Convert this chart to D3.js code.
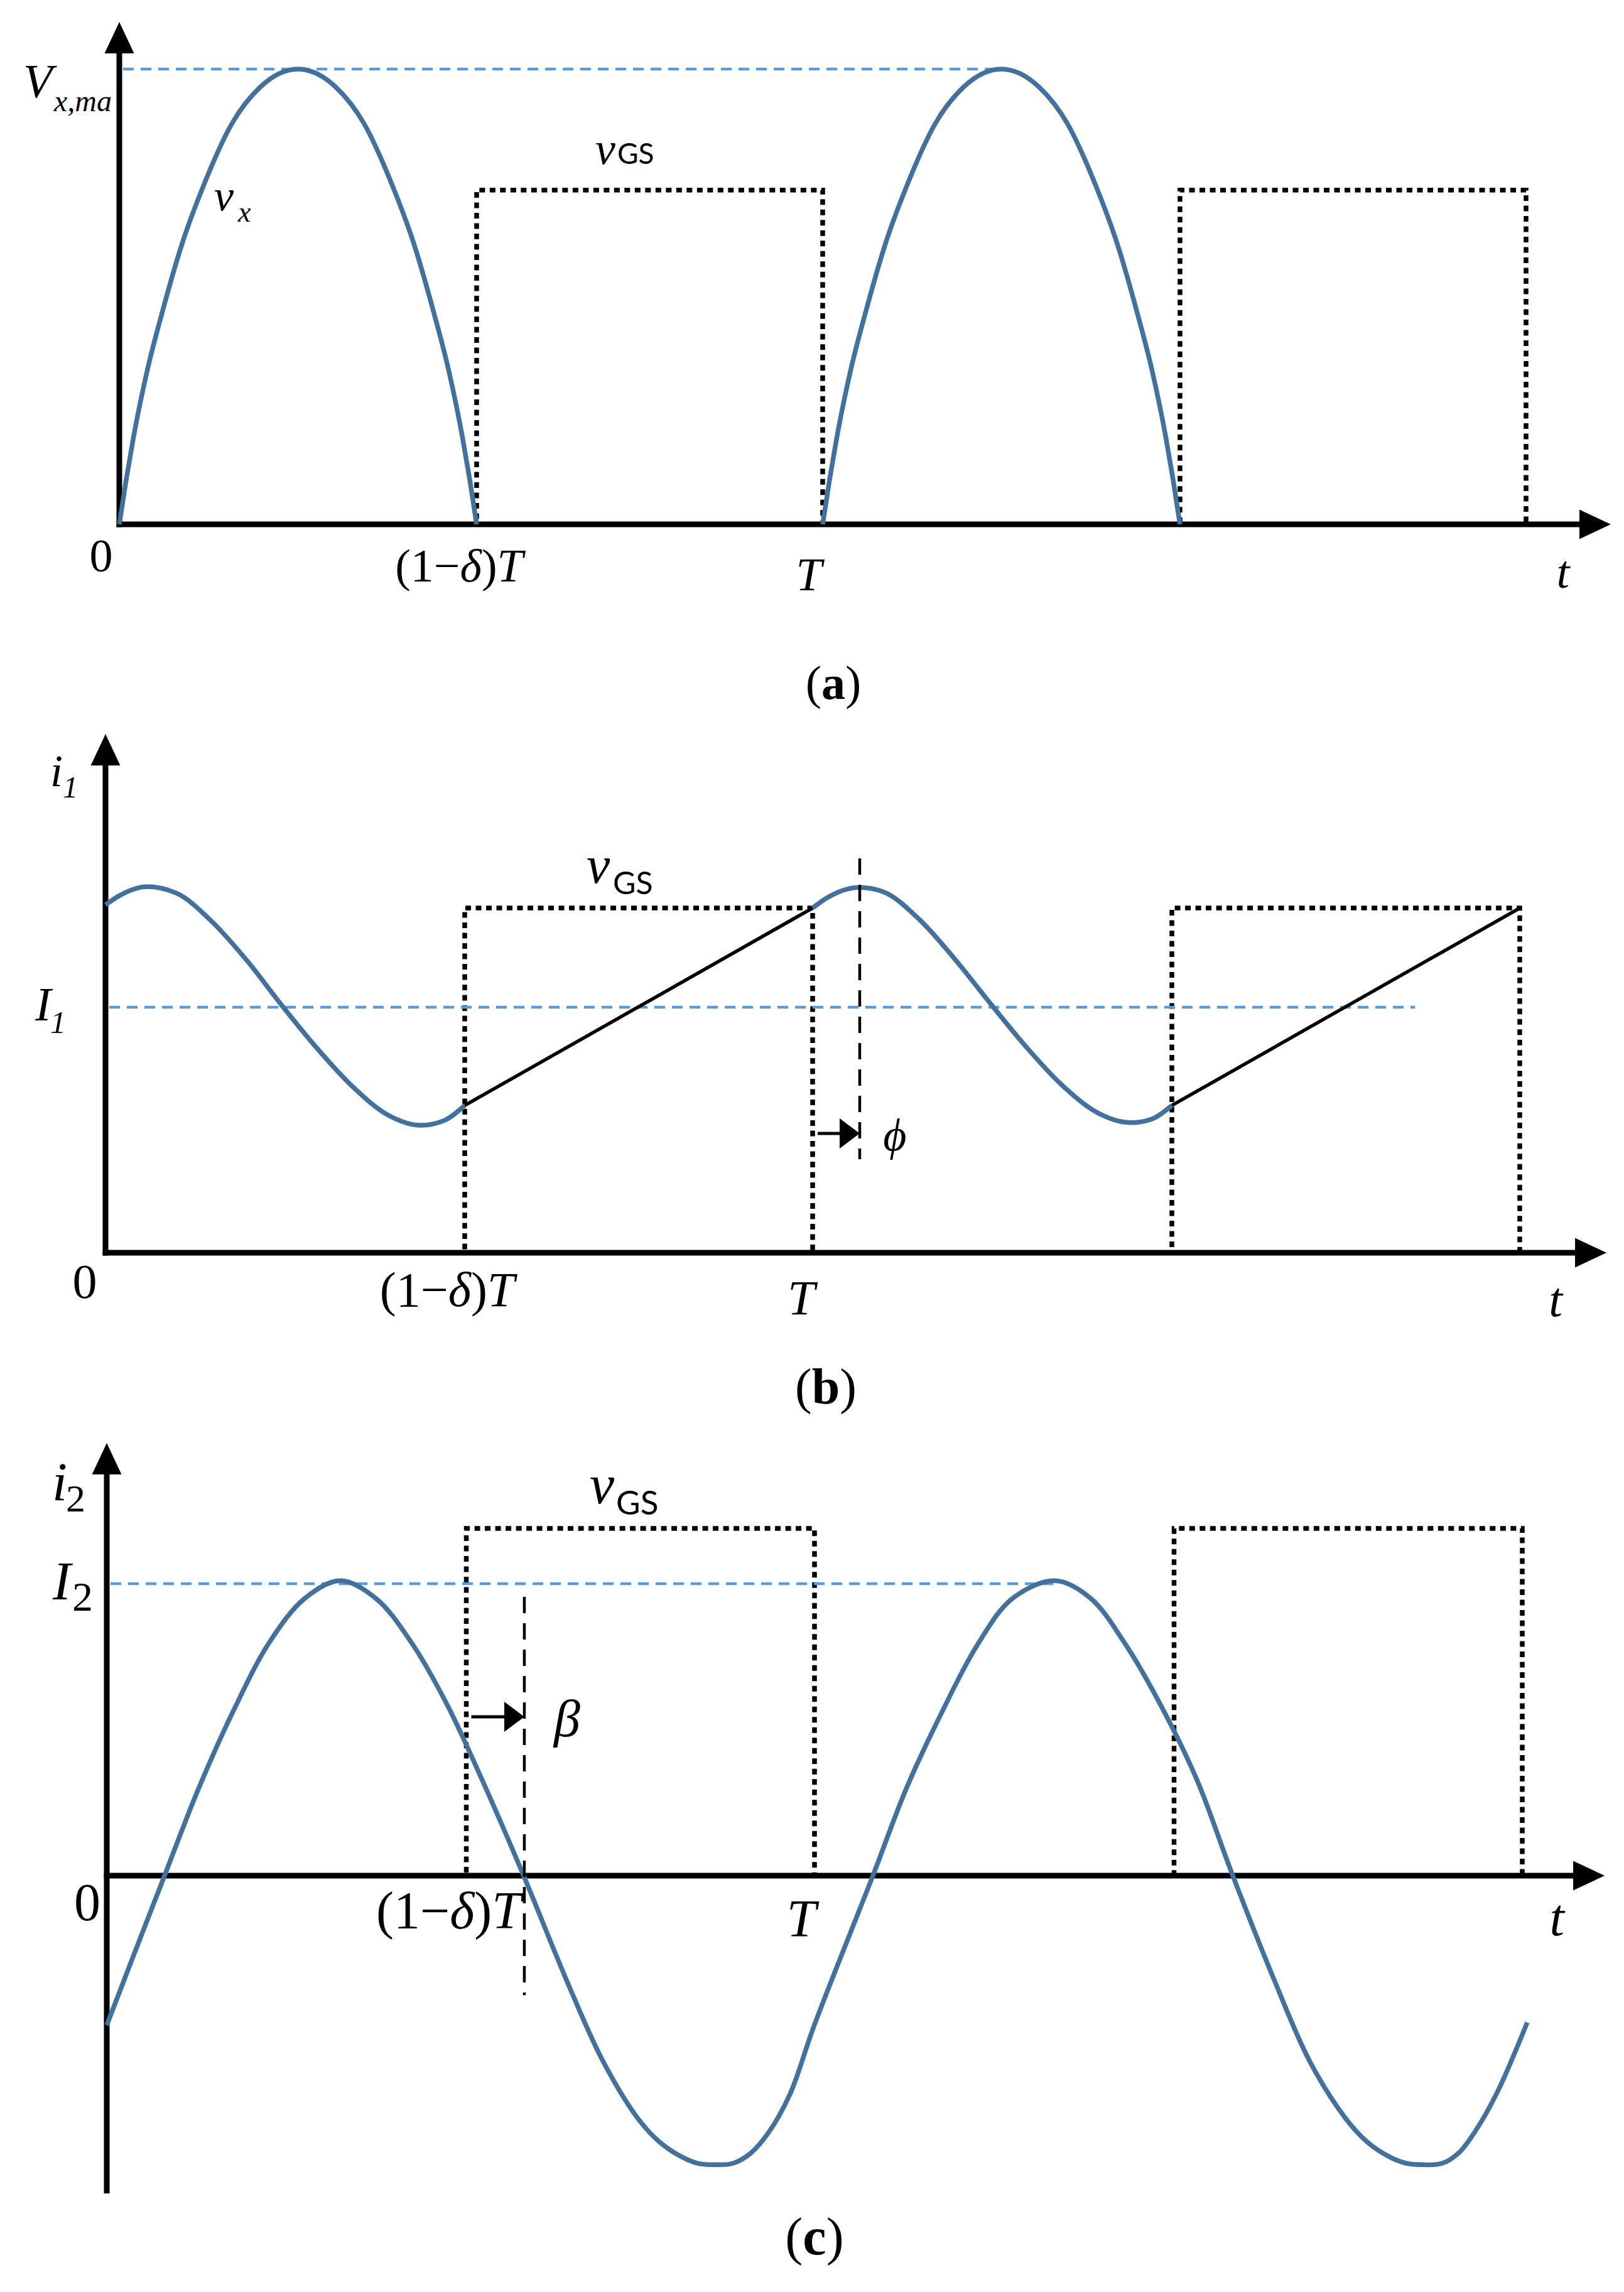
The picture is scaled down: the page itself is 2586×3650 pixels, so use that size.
<!DOCTYPE html>
<html><head><meta charset="utf-8">
<script src="https://cdn.jsdelivr.net/npm/d3@7"></script>
<style>body{margin:0;background:#fff} svg{display:block;background:#fff}</style>
</head><body>
<svg id="fig" width="2586" height="3650"></svg>
<script>
// ---------------- DATA ----------------
// time in units of the switching period T
const offEnd = 0.508;                       // (1-δ)T
const gateT     = [0, 0.508, 0.508, 1, 1, 1.508, 1.508, 2, 2];
const gateLevel = [0, 0, 1, 1, 0, 0, 1, 1, 0];   // fraction of the gate high level
const gateHigh  = {a: 0.734, b: 1.404, c: 1.189};

// (a) switch voltage v_x, normalised to V_x,max
const vxArc1 = [[0,0],[0.01,0.1],[0.02,0.19],[0.04,0.34],[0.06,0.46],[0.09,0.62],[0.12,0.745],[0.16,0.88],[0.2,0.96],[0.254,1.0],[0.308,0.96],[0.348,0.88],[0.388,0.745],[0.418,0.62],[0.448,0.46],[0.468,0.34],[0.488,0.19],[0.498,0.1],[0.508,0]];
const vxArc2 = [[1,0],[1.01,0.1],[1.02,0.19],[1.04,0.34],[1.06,0.46],[1.09,0.62],[1.12,0.745],[1.16,0.88],[1.2,0.96],[1.254,1.0],[1.308,0.96],[1.348,0.88],[1.388,0.745],[1.418,0.62],[1.448,0.46],[1.468,0.34],[1.488,0.19],[1.498,0.1],[1.508,0]];
const vxMaxEnd = 1.254;

// (b) input current i_1, normalised to I_1
const i1Off1 = [[0,1.417],[0.02,1.455],[0.0586,1.491],[0.1,1.465],[0.15,1.35],[0.2,1.19],[0.25,1.005],[0.3,0.83],[0.35,0.675],[0.4,0.56],[0.446,0.519],[0.48,0.54],[0.508,0.6]];
const i1Off2 = [[1,1.404],[1.02,1.445],[1.0666,1.488],[1.1,1.47],[1.15,1.36],[1.2,1.2],[1.25,1.02],[1.3,0.845],[1.35,0.69],[1.4,0.575],[1.451,0.53],[1.48,0.545],[1.508,0.6]];
const i1On1 = [[0.508,0.6],[1,1.404]];
const i1On2 = [[1.508,0.6],[2,1.404]];
const I1End = 1.852;
const phiT = 1.0666;

// (c) output current i_2, normalised to I_2
const i2Wave = [[0,-0.512],[0.04,-0.26],[0.0816,0],[0.13,0.3],[0.18,0.57],[0.23,0.8],[0.28,0.95],[0.33,1.01],[0.38,0.95],[0.43,0.8],[0.48,0.59],[0.53,0.33],[0.589,0],[0.65,-0.36],[0.7,-0.63],[0.75,-0.83],[0.78,-0.91],[0.81,-0.96],[0.835,-0.985],[0.86,-0.99],[0.885,-0.985],[0.91,-0.95],[0.935,-0.88],[0.965,-0.75],[1.0,-0.51],
  [1.0825,0],[1.13,0.3],[1.18,0.56],[1.23,0.79],[1.28,0.95],[1.34,1.01],[1.39,0.95],[1.44,0.79],[1.49,0.58],[1.54,0.33],[1.591,0],[1.65,-0.36],[1.7,-0.637],[1.75,-0.83],[1.78,-0.91],[1.81,-0.96],[1.836,-0.985],[1.861,-0.99],[1.887,-0.985],[1.91,-0.95],[1.935,-0.87],[1.965,-0.74],[2.007,-0.503]];
const I2End = 1.34;
const betaT = 0.590;

// texts
const xTickText = ["0", "(1−δ)T", "T", "t"];
const captions  = ["a", "b", "c"];

// ---------------- LAYOUT ----------------
const svg = d3.select("#fig");
const BLUE = "#41719C", LIGHTBLUE = "#5B9BD5";
const SERIF = "'Liberation Serif','Times New Roman',serif";
const SANS = "Lato,'Liberation Sans',sans-serif";

const panels = {
  a: {x0:190, x1:1310, y0:835,  y1:110,  tipT:2.1205, tipV:1.1034, botV:0},
  b: {x0:168, x1:1294, y0:1995, y1:1604, tipT:2.1226, tipV:2.1125, botV:0},
  c: {x0:170, x1:1297, y0:2987, y1:2522, tipT:2.1163, tipV:1.4817, botV:-1.088}
};
for (const k in panels) {
  const p = panels[k];
  p.x = d3.scaleLinear().domain([0,1]).range([p.x0,p.x1]);
  p.y = d3.scaleLinear().domain([0,1]).range([p.y0,p.y1]);
}

function txt(x, y, s, o={}) {
  return svg.append("text").attr("x", x).attr("y", y)
    .attr("font-family", o.family || SERIF)
    .attr("font-size", o.size || 76)
    .attr("font-style", o.italic ? "italic" : "normal")
    .attr("font-weight", o.weight || "normal")
    .attr("text-anchor", o.anchor || "start")
    .attr("fill", "#000").text(s);
}

function drawAxes(p) {
  const g = svg.append("g");
  const ax = p.x(0), ay = p.y(0);
  const tipY = p.y(p.tipV), tipX = p.x(p.tipT);
  const L = 50, W = 23.5;
  g.append("line").attr("x1", ax).attr("x2", ax).attr("y1", tipY + L - 2).attr("y2", p.y(p.botV) + (p.botV === 0 ? 4.5 : 0))
    .attr("stroke", "#000").attr("stroke-width", 9);
  g.append("line").attr("x1", ax - 4.5).attr("x2", tipX - L + 2).attr("y1", ay).attr("y2", ay)
    .attr("stroke", "#000").attr("stroke-width", 9);
  g.append("path").attr("d", `M${ax},${tipY}L${ax - W},${tipY + L}L${ax + W},${tipY + L}Z`).attr("fill", "#000");
  g.append("path").attr("d", `M${tipX},${ay}L${tipX - L},${ay - W}L${tipX - L},${ay + W}Z`).attr("fill", "#000");
}

function drawGate(p, high) {
  const pts = gateT.map((t, i) => [t, gateLevel[i] * high]);
  svg.append("path").attr("d", d3.line().x(d => p.x(d[0])).y(d => p.y(d[1]))(pts))
    .attr("fill", "none").attr("stroke", "#000").attr("stroke-width", 7.5)
    .attr("stroke-dasharray", "9,7.5");
}

function drawRef(p, t1, v) {
  svg.append("line").attr("x1", p.x(0) + 6).attr("x2", p.x(t1)).attr("y1", p.y(v)).attr("y2", p.y(v))
    .attr("stroke", LIGHTBLUE).attr("stroke-width", 4.5).attr("stroke-dasharray", "17,11");
}

function drawCurve(p, data, color, w, curve) {
  svg.append("path").attr("d", d3.line().x(d => p.x(d[0])).y(d => p.y(d[1])).curve(curve || d3.curveMonotoneX)(data))
    .attr("fill", "none").attr("stroke", color).attr("stroke-width", w)
    .attr("stroke-linejoin", "round").attr("stroke-linecap", "butt");
}

function drawMarker(p, tStart, tEnd, vArrow, vTop, vBot) {
  svg.append("line").attr("x1", p.x(tEnd)).attr("x2", p.x(tEnd)).attr("y1", p.y(vTop)).attr("y2", p.y(vBot))
    .attr("stroke", "#000").attr("stroke-width", 4.5).attr("stroke-dasharray", "26,16");
  const xa = p.x(tEnd), ya = p.y(vArrow);
  svg.append("line").attr("x1", p.x(tStart) + 8).attr("x2", xa - 28).attr("y1", ya).attr("y2", ya)
    .attr("stroke", "#000").attr("stroke-width", 5);
  svg.append("path").attr("d", `M${xa},${ya}L${xa - 32},${ya - 24}L${xa - 32},${ya + 24}Z`).attr("fill", "#000");
}

function tickLabels(p, dy, size, offs) {
  txt(p.x(0) + offs[0], p.y(0) + dy[0], xTickText[0], {size, anchor: "middle"});
  const t1 = txt(p.x(offEnd) + offs[1], p.y(0) + dy[1], "", {size, anchor: "middle"});
  t1.append("tspan").text("(1−");
  t1.append("tspan").attr("font-style", "italic").text("δ");
  t1.append("tspan").text(")");
  t1.append("tspan").attr("font-style", "italic").text("T");
  txt(p.x(1) + offs[2], p.y(0) + dy[2], xTickText[2], {size, anchor: "middle", italic: true});
  txt(p.x(p.tipT) + offs[3], p.y(0) + dy[3], xTickText[3], {size, anchor: "middle", italic: true});
}

function caption(x, y, letter, size) {
  const t = txt(x, y, "", {size, anchor: "middle"});
  t.append("tspan").text("(");
  t.append("tspan").attr("font-weight", "bold").text(letter);
  t.append("tspan").text(")");
}

// ---------------- PANEL (a) ----------------
{
  const p = panels.a;
  drawAxes(p);
  drawGate(p, gateHigh.a);
  drawRef(p, vxMaxEnd, 1);
  drawCurve(p, vxArc1, BLUE, 7.5);
  drawCurve(p, vxArc2, BLUE, 7.5);
  tickLabels(p, [75, 91, 105, 101], 74, [-29, -28, -22, -76]);
  caption(1327, 1113, captions[0], 76);
  txt(37, 155, "V", {size: 76, italic: true});
  txt(86, 177, "x,ma", {size: 48, italic: true});
  txt(341, 335, "v", {size: 70, italic: true});
  txt(379, 353, "x", {size: 46, italic: true});
  txt(948, 261, "v", {size: 72, italic: true});
  txt(983, 261, "GS", {size: 46, family: SANS});
}

// ---------------- PANEL (b) ----------------
{
  const p = panels.b;
  drawAxes(p);
  drawGate(p, gateHigh.b);
  drawRef(p, I1End, 1);
  drawCurve(p, i1Off1, BLUE, 7.5);
  drawCurve(p, i1Off2, BLUE, 7.5);
  drawCurve(p, i1On1, "#000", 5.5, d3.curveLinear);
  drawCurve(p, i1On2, "#000", 5.5, d3.curveLinear);
  drawMarker(p, 1, phiT, 0.486, 1.606, 0.381);
  tickLabels(p, [72, 85, 98, 101], 78, [-33, -28, -18, -81]);
  caption(1315, 2235, captions[1], 80);
  txt(80, 1252, "i", {size: 72, italic: true});
  txt(100, 1270, "1", {size: 48, italic: true});
  txt(56, 1625, "I", {size: 76, italic: true});
  txt(80, 1645, "1", {size: 50, italic: true});
  txt(934, 1406, "v", {size: 84, italic: true});
  txt(976, 1424, "GS", {size: 50, family: SANS});
  txt(1425, 1832, "ϕ", {size: 72, italic: true, anchor: "middle"});
}

// ---------------- PANEL (c) ----------------
{
  const p = panels.c;
  drawAxes(p);
  drawGate(p, gateHigh.c);
  drawRef(p, I2End, 1);
  drawCurve(p, i2Wave, BLUE, 7.5, d3.curveCatmullRom.alpha(0.5));
  drawMarker(p, offEnd, betaT, 0.544, 0.955, -0.409);
  tickLabels(p, [71, 84, 97, 95], 84, [-31, -28, -21, -76]);
  caption(1297, 3590, captions[2], 84);
  txt(83, 2389, "i", {size: 86, italic: true});
  txt(105, 2407, "2", {size: 62});
  txt(84, 2547, "I", {size: 86, italic: true});
  txt(115, 2565, "2", {size: 66});
  txt(939, 2394, "v", {size: 88, italic: true});
  txt(981, 2412, "GS", {size: 53, family: SANS});
  txt(903, 2765, "β", {size: 84, italic: true, anchor: "middle"});
}
</script>
</body></html>
